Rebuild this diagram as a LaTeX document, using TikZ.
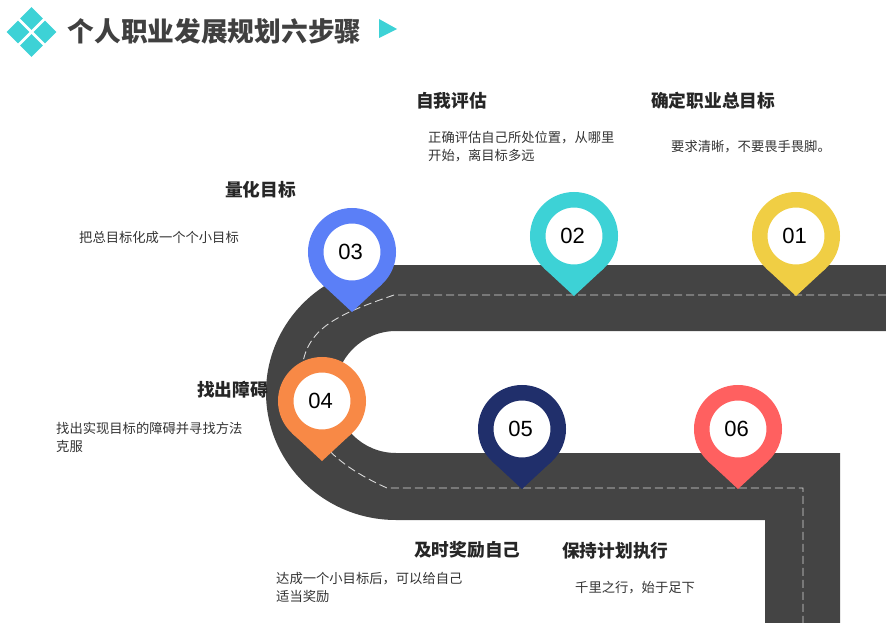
\documentclass[tikz,border=0pt]{standalone}
\usepackage{fontspec}
\setmainfont{Noto Sans CJK SC}
\newfontfamily\numfont{Liberation Sans}
\usetikzlibrary{shapes.geometric}
\definecolor{road}{HTML}{444444}
\definecolor{teal}{HTML}{3DD2D6}
\definecolor{bluepin}{HTML}{5B7FF7}
\definecolor{orangepin}{HTML}{F88946}
\definecolor{navypin}{HTML}{202F6B}
\definecolor{redpin}{HTML}{FF6060}
\definecolor{yellowpin}{HTML}{F0CE44}
\tikzset{
	pin/.style={circle, draw=#1, line width=15.5pt, fill=white, minimum size=72.5pt, inner sep=0pt, font=\numfont\fontsize{22}{26}\selectfont, execute at begin node=\hspace{-3pt}},
	tile/.style={diamond, fill=teal, minimum size=23pt, inner sep=0pt},
	head/.style={text=black!85, font=\bfseries\fontsize{17.7}{22}\selectfont, inner sep=0pt},
	body/.style={text=black!80, font=\fontsize{13.3}{18}\selectfont, inner sep=0pt, align=left}
}

\begin{document}
\begin{tikzpicture}[x=1pt, y=-1pt]
	\useasboundingbox (0,0) rectangle (886,623);
	% road
	\fill[road] (886,265)--(396,265) arc[start angle=-90, end angle=-270, x radius=130, y radius=127.5]
		--(765,520)--(765,623)--(840,623)--(840,453)--(396,453)
		arc[start angle=90, end angle=270, radius=61]--(886,331)--cycle;
	\draw[white!85!black, line width=0.9pt, dash pattern=on 8pt off 4pt] (886,295)--(394,295)
		.. controls (345,312) and (310,325) .. (303,362)
		.. controls (295,420) and (320,458) .. (387,488)--(803,488)--(803,623);

	% title
	\node[tile] (t1) at (31.5,18.5) {};
	\node[tile] (t2) at (18,32) {};
	\node[tile] (t3) at (45,32) {};
	\node[tile] (t4) at (31.5,45.5) {};
	\node[anchor=west, inner sep=0pt, text=black!75, font=\bfseries\fontsize{26.7}{32}\selectfont] (title) at (67.5,31) {个人职业发展规划六步骤};
	\fill[teal] (379,19)--(397,29)--(379,38)--cycle;

	% pins
	\node[pin=yellowpin] (p1) at (796,236) {01};
	\coordinate (e1) at (796,296);
	\fill[yellowpin] (p1.-47)--(e1)--(p1.-133)--cycle;
	\node[pin=teal] (p2) at (574,236) {02};
	\coordinate (e2) at (574,296);
	\fill[teal] (p2.-47)--(e2)--(p2.-133)--cycle;
	\node[pin=bluepin] (p3) at (352,252) {03};
	\coordinate (e3) at (352,312);
	\fill[bluepin] (p3.-47)--(e3)--(p3.-133)--cycle;
	\node[pin=orangepin] (p4) at (322,401) {04};
	\coordinate (e4) at (322,461);
	\fill[orangepin] (p4.-47)--(e4)--(p4.-133)--cycle;
	\node[pin=navypin] (p5) at (522,429) {05};
	\coordinate (e5) at (522,489);
	\fill[navypin] (p5.-47)--(e5)--(p5.-133)--cycle;
	\node[pin=redpin] (p6) at (738,429) {06};
	\coordinate (e6) at (738,489);
	\fill[redpin] (p6.-47)--(e6)--(p6.-133)--cycle;

	% texts
	\node[head, anchor=west] (h1) at (651,100.7) {确定职业总目标};
	\node[body, anchor=west] (b1) at (671,146.7) {要求清晰，不要畏手畏脚。};
	\node[head, anchor=west] (h2) at (416,100.7) {自我评估};
	\node[body, anchor=west] (b2) at (428,146.7) {正确评估自己所处位置，从哪里\\开始，离目标多远};
	\node[head, anchor=west] (h3) at (225,189.7) {量化目标};
	\node[body, anchor=west] (b3) at (79,237) {把总目标化成一个个小目标};
	\node[head, anchor=west] (h4) at (197,389.7) {找出障碍};
	\node[body, anchor=west] (b4) at (56,437) {找出实现目标的障碍并寻找方法\\克服};
	\node[head, anchor=west] (h5) at (414,549.7) {及时奖励自己};
	\node[body, anchor=west] (b5) at (276,587) {达成一个小目标后，可以给自己\\适当奖励};
	\node[head, anchor=west] (h6) at (562,550.7) {保持计划执行};
	\node[body, anchor=west] (b6) at (575,587.5) {千里之行，始于足下};
\end{tikzpicture}
\end{document}
